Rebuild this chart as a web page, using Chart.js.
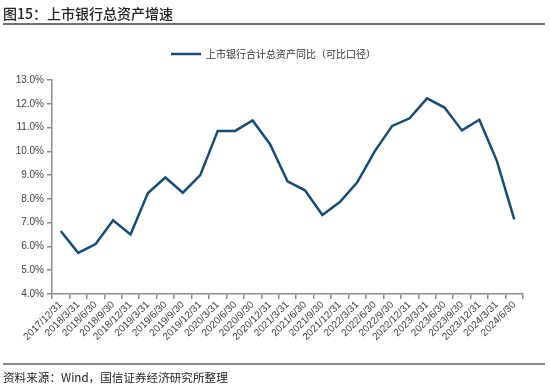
<!DOCTYPE html>
<html>
<head>
<meta charset="utf-8">
<script src="https://cdn.jsdelivr.net/npm/chart.js@4.4.1/dist/chart.umd.min.js"></script>
<style>
  body { margin: 0; background: #fff; }
  #wrap { position: relative; width: 550px; height: 388px; font-family: "Noto Sans CJK SC", sans-serif; }
  #title { position: absolute; left: 3px; top: 3px; font-size: 14px; color: #222; font-weight: 500; }
  #topline { position: absolute; left: 3px; top: 23px; width: 542px; height: 2px; background: #707070; }
  #botline { position: absolute; left: 3px; top: 363px; width: 542px; height: 2px; background: #8a8a8a; }
  #source { position: absolute; left: 3px; top: 369px; font-size: 11.6px; color: #222; }
  canvas { position: absolute; left: 0; top: 0; }
</style>
</head>
<body>
<div id="wrap">
  <canvas id="chart" width="550" height="388"></canvas>
  <div id="title">图15：上市银行总资产增速</div>
  <div id="topline"></div>
  <div id="botline"></div>
  <div id="source">资料来源：Wind，国信证券经济研究所整理</div>
</div>
<script>
var labels = [
  '2017/12/31', '2018/3/31', '2018/6/30', '2018/9/30', '2018/12/31',
  '2019/3/31', '2019/6/30', '2019/9/30', '2019/12/31',
  '2020/3/31', '2020/6/30', '2020/9/30', '2020/12/31',
  '2021/3/31', '2021/6/30', '2021/9/30', '2021/12/31',
  '2022/3/31', '2022/6/30', '2022/9/30', '2022/12/31',
  '2023/3/31', '2023/6/30', '2023/9/30', '2023/12/31',
  '2024/3/31', '2024/6/30'
];
var seriesName = '上市银行合计总资产同比（可比口径）';
var growth = [
  6.65, 5.73, 6.10, 7.10, 6.50,
  8.25, 8.90, 8.26, 9.00,
  10.86, 10.86, 11.30, 10.30,
  8.74, 8.36, 7.32, 7.87,
  8.70, 10.00, 11.07, 11.39,
  12.23, 11.84, 10.88, 11.33,
  9.60, 7.14
];
var yTicks = [4, 5, 6, 7, 8, 9, 10, 11, 12, 13];

var lineColor = '#154c79';
var axisColor = '#8c8c8c';

// legend sits higher than the plot and a bit right of centre
var legendGap = {
  id: 'legendGap',
  beforeLayout: function(chart) {
    var lg = chart.legend;
    if (!lg || lg._gapped) return;
    var fit = lg.fit;
    lg.fit = function() {
      fit.call(this);
      this.height += 11;
    };
    lg._gapped = true;
  },
  afterLayout: function(chart) {
    if (chart.legend) chart.legend.left += 24;
  }
};

var ctx = document.getElementById('chart');
var myChart = new Chart(ctx, {
  type: 'line',
  data: {
    labels: labels,
    datasets: [{
      label: seriesName,
      data: growth,
      borderColor: lineColor,
      backgroundColor: lineColor,
      borderWidth: 2.5,
      pointRadius: 0,
      tension: 0
    }]
  },
  options: {
    responsive: false,
    animation: false,
    layout: { padding: { top: 29, left: 0, right: 27, bottom: 30 } },
    plugins: {
      tooltip: { enabled: false },
      legend: {
        position: 'top',
        labels: {
          usePointStyle: true,
          pointStyle: 'line',
          pointStyleWidth: 30,
          color: '#333',
          font: { family: '"Noto Sans CJK SC", sans-serif', size: 10 },
          padding: 20
        }
      }
    },
    scales: {
      x: {
        offset: true,
        afterFit: function(s) { s.height = 64; },
        border: { display: true, color: axisColor, width: 1.5 },
        grid: { display: true, drawOnChartArea: false, offset: true, tickLength: 5, color: axisColor, lineWidth: 1.5 },
        ticks: {
          autoSkip: false,
          maxRotation: 45,
          minRotation: 45,
          padding: 0,
          color: '#404040',
          font: { family: '"Liberation Sans", sans-serif', size: 10 }
        }
      },
      y: {
        min: 4,
        max: 13,
        afterFit: function(s) { s.width = 52; },
        afterBuildTicks: function(s) { s.ticks = yTicks.map(function(v) { return { value: v }; }); },
        border: { display: true, color: axisColor, width: 1.5 },
        grid: { display: true, drawOnChartArea: false, tickLength: 5, color: axisColor, lineWidth: 1.5 },
        ticks: {
          padding: 3,
          color: '#404040',
          font: { family: '"Liberation Sans", sans-serif', size: 10 },
          callback: function(v) { return v.toFixed(1) + '%'; }
        }
      }
    }
  },
  plugins: [legendGap]
});
</script>
</body>
</html>
